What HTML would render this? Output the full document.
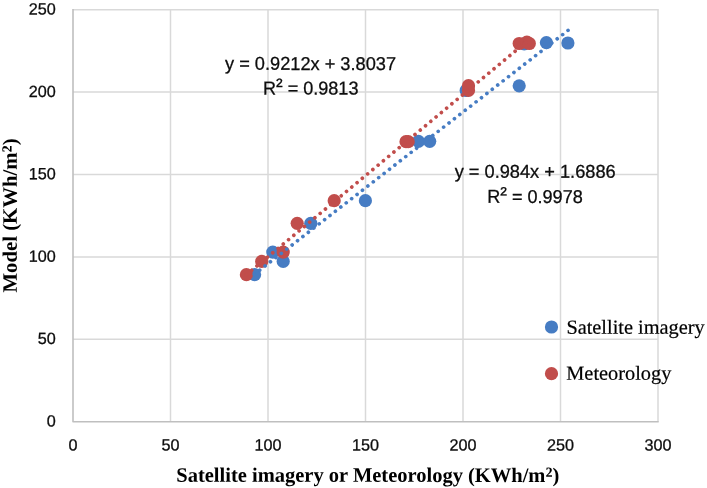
<!DOCTYPE html>
<html lang="en">
<head>
<meta charset="utf-8">
<title>Model vs Satellite imagery or Meteorology</title>
<style>
  html, body { margin: 0; padding: 0; background: #ffffff; }
  body { width: 707px; height: 488px; overflow: hidden; }
  svg { display: block; will-change: transform; transform: translateZ(0); }
  .sans { font-family: "Liberation Sans", sans-serif; fill: #0d0d0d; stroke: #0d0d0d; stroke-width: 0.28px; }
  .serif { font-family: "Liberation Serif", serif; fill: #000000; }
  .tick { font-size: 16.2px; }
  .eq { font-size: 18.6px; }
  .legend { font-size: 20px; stroke: #000; stroke-width: 0.2px; }
  .title { font-size: 20.5px; font-weight: bold; }
</style>
</head>
<body>
<svg width="707" height="488" viewBox="0 0 707 488">
  <rect x="0" y="0" width="707" height="488" fill="#ffffff"/>

  <!-- gridlines -->
  <g id="grid" stroke="#d9d9d9" stroke-width="1.5" fill="none">
    <line x1="73.0" y1="339.3" x2="658.0" y2="339.3"/>
    <line x1="73.0" y1="256.9" x2="658.0" y2="256.9"/>
    <line x1="73.0" y1="174.5" x2="658.0" y2="174.5"/>
    <line x1="73.0" y1="92.1" x2="658.0" y2="92.1"/>
    <line x1="73.0" y1="9.7" x2="658.75" y2="9.7"/>
    <line x1="170.5" y1="9.7" x2="170.5" y2="421.7"/>
    <line x1="268.0" y1="9.7" x2="268.0" y2="421.7"/>
    <line x1="365.5" y1="9.7" x2="365.5" y2="421.7"/>
    <line x1="463.0" y1="9.7" x2="463.0" y2="421.7"/>
    <line x1="560.5" y1="9.7" x2="560.5" y2="421.7"/>
    <line x1="658.0" y1="9.7" x2="658.0" y2="421.7"/>
  </g>

  <!-- axes -->
  <g id="axes" stroke="#bfbfbf" stroke-width="1.6" fill="none">
    <polyline points="73,9 73,421.7 658.7,421.7" stroke-linejoin="round"/>
  </g>

  <!-- series 1 markers: Satellite imagery -->
  <g id="s1" fill="#467cc3">
    <circle cx="254.6" cy="274.7" r="6.6"/>
    <circle cx="283.2" cy="261.4" r="6.6"/>
    <circle cx="272.8" cy="252.1" r="6.6"/>
    <circle cx="310.8" cy="223.3" r="6.6"/>
    <circle cx="365.4" cy="200.7" r="6.6"/>
    <circle cx="418.4" cy="141.3" r="6.6"/>
    <circle cx="429.7" cy="141.3" r="6.6"/>
    <circle cx="466.2" cy="90.5" r="6.6"/>
    <circle cx="519.2" cy="85.8" r="6.6"/>
    <circle cx="524.2" cy="43.8" r="6.6"/>
    <circle cx="546.4" cy="42.6" r="6.6"/>
    <circle cx="567.9" cy="43.0" r="6.6"/>
  </g>

  <!-- series 2 markers: Meteorology -->
  <g id="s2" fill="#c14d4b">
    <circle cx="246.4" cy="274.7" r="6.6"/>
    <circle cx="261.7" cy="261.4" r="6.6"/>
    <circle cx="283.2" cy="252.1" r="6.6"/>
    <circle cx="297.2" cy="223.3" r="6.6"/>
    <circle cx="334.2" cy="200.7" r="6.6"/>
    <circle cx="406" cy="141.7" r="6.6"/>
    <circle cx="408.2" cy="141.7" r="6.6"/>
    <circle cx="468.5" cy="90.4" r="6.6"/>
    <circle cx="468.5" cy="85.7" r="6.6"/>
    <circle cx="519.2" cy="43.5" r="6.6"/>
    <circle cx="526.9" cy="42.1" r="6.6"/>
    <circle cx="529.3" cy="43.5" r="6.6"/>
  </g>

  <!-- trendlines (dotted, drawn above markers) -->
  <g id="trend" fill="none" stroke-width="3.7" stroke-linecap="round" stroke-dasharray="0.01 6.843">
    <line x1="254.25" y1="274.39" x2="568.24" y2="30.22" stroke="#467cc3"/>
    <line x1="246.4" y1="274.7" x2="529.3" y2="39.4" stroke="#c14d4b"/>
  </g>

  <!-- trendline equation labels -->
  <g class="sans eq" text-anchor="middle">
    <text x="310.5" y="69.9" transform="rotate(0.03 310.5 69.9)" textLength="171" lengthAdjust="spacingAndGlyphs">y = 0.9212x + 3.8037</text>
    <text x="310.7" y="94.5" transform="rotate(0.03 310.7 94.5)" textLength="95.5" lengthAdjust="spacingAndGlyphs">R<tspan font-size="20.5" dy="-1.6">²</tspan><tspan dy="1.6"> = 0.9813</tspan></text>
    <text x="535.2" y="177.7" transform="rotate(0.03 535.2 177.7)" textLength="161" lengthAdjust="spacingAndGlyphs">y = 0.984x + 1.6886</text>
    <text x="535.0" y="202.9" transform="rotate(0.03 535.0 202.9)" textLength="95.5" lengthAdjust="spacingAndGlyphs">R<tspan font-size="20.5" dy="-1.6">²</tspan><tspan dy="1.6"> = 0.9978</tspan></text>
  </g>

  <!-- y axis tick labels -->
  <g class="sans tick" text-anchor="end">
    <text x="55.7" y="426.5" transform="rotate(0.03 55.7 426.5)">0</text>
    <text x="55.7" y="344.1" transform="rotate(0.03 55.7 344.1)">50</text>
    <text x="55.7" y="261.7" transform="rotate(0.03 55.7 261.7)">100</text>
    <text x="55.7" y="179.3" transform="rotate(0.03 55.7 179.3)">150</text>
    <text x="55.7" y="96.9" transform="rotate(0.03 55.7 96.9)">200</text>
    <text x="55.7" y="14.5" transform="rotate(0.03 55.7 14.5)">250</text>
  </g>

  <!-- x axis tick labels -->
  <g class="sans tick" text-anchor="middle">
    <text x="73.0" y="450.6" transform="rotate(0.03 73.0 450.6)">0</text>
    <text x="170.5" y="450.6" transform="rotate(0.03 170.5 450.6)">50</text>
    <text x="268.0" y="450.6" transform="rotate(0.03 268.0 450.6)">100</text>
    <text x="365.5" y="450.6" transform="rotate(0.03 365.5 450.6)">150</text>
    <text x="463.0" y="450.6" transform="rotate(0.03 463.0 450.6)">200</text>
    <text x="560.5" y="450.6" transform="rotate(0.03 560.5 450.6)">250</text>
    <text x="658.0" y="450.6" transform="rotate(0.03 658.0 450.6)">300</text>
  </g>

  <!-- legend -->
  <circle cx="551.5" cy="327" r="6.6" fill="#467cc3"/>
    <text class="serif legend" x="566.4" y="333.7" transform="rotate(0.03 566.4 333.7)" textLength="138.2" lengthAdjust="spacingAndGlyphs">Satellite imagery</text>
  <circle cx="551.5" cy="373.7" r="6.6" fill="#c14d4b"/>
    <text class="serif legend" x="566.3" y="379.7" transform="rotate(0.03 566.3 379.7)" textLength="105" lengthAdjust="spacingAndGlyphs">Meteorology</text>

  <!-- axis titles -->
    <text class="serif title" x="367.8" y="481.85" transform="rotate(0.03 367.8 481.85)" text-anchor="middle" textLength="383" lengthAdjust="spacingAndGlyphs">Satellite imagery or Meteorology (KWh/m<tspan font-size="23.5" dy="1.0">²</tspan><tspan dy="-1.0">)</tspan></text>
    <text class="serif title" transform="translate(16.7 215.45) rotate(-89.97)" text-anchor="middle" textLength="154" lengthAdjust="spacingAndGlyphs">Model (KWh/m<tspan font-size="23.5" dy="1.0">²</tspan><tspan dy="-1.0">)</tspan></text>
</svg>
</body>
</html>
